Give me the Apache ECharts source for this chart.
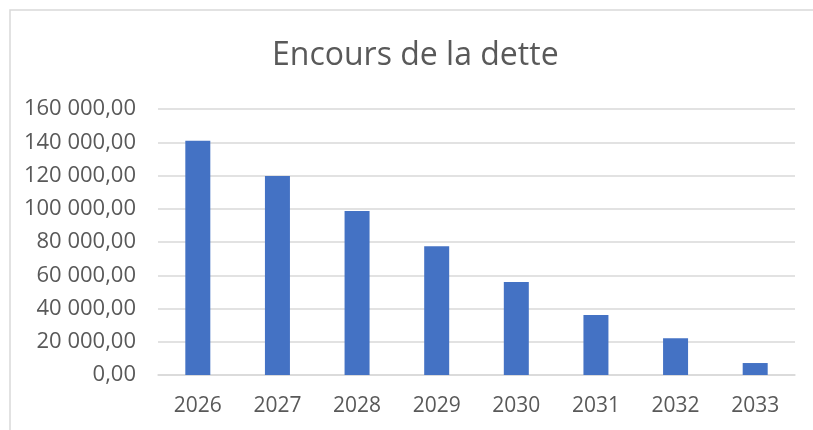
<!DOCTYPE html>
<html>
<head>
<meta charset="utf-8">
<script src="https://cdn.jsdelivr.net/npm/echarts@6/dist/echarts.min.js"></script>
<style>
  html, body { margin: 0; padding: 0; background: #fff; }
  #chart { width: 813px; height: 430px; }
</style>
</head>
<body>
<div id="chart"></div>
<script>
// données
const years = ['2026', '2027', '2028', '2029', '2030', '2031', '2032', '2033'];
const encours = [140900, 119700, 98700, 77400, 55900, 36100, 22100, 7200];
const yTicks = [0, 20000, 40000, 60000, 80000, 100000, 120000, 140000, 160000];

// format français : 160 000,00
function frNumber(v) {
  let parts = v.toFixed(2).split('.');
  let ent = parts[0].replace(/\B(?=(\d{3})+(?!\d))/g, ' ');
  return ent + ',' + parts[1];
}

let myecharts = echarts.init(document.getElementById('chart'));
let option = {
  animation: false,
  textStyle: { fontFamily: 'Open Sans' },
  title: {
    text: 'Encours de la dette',
    left: 267,
    top: 35,
    textStyle: { fontSize: 32, fontWeight: 'normal', color: '#595959', fontFamily: 'Open Sans' }
  },
  graphic: [
    {
      type: 'rect',
      shape: { x: 10, y: 10, width: 830, height: 440 },
      style: { fill: 'none', stroke: '#d9d9d9', lineWidth: 1.5 },
      silent: true
    }
  ],
  grid: { left: 158, right: 18, top: 109, bottom: 55 },
  xAxis: {
    type: 'category',
    data: years,
    axisTick: { show: false },
    axisLine: { lineStyle: { color: '#d9d9d9', width: 1.5 } },
    axisLabel: { color: '#595959', fontSize: 21, margin: 21 }
  },
  yAxis: {
    type: 'value',
    min: yTicks[0],
    max: yTicks[yTicks.length - 1],
    interval: yTicks[1] - yTicks[0],
    axisLine: { show: false },
    axisTick: { show: false },
    splitLine: { lineStyle: { color: '#d9d9d9', width: 1.5 } },
    axisLabel: { color: '#595959', fontSize: 22, margin: 22, formatter: frNumber }
  },
  series: [
    {
      type: 'bar',
      data: encours,
      barWidth: 25,
      itemStyle: { color: '#4472C4' }
    }
  ]
};
myecharts.setOption(option);
</script>
</body>
</html>
